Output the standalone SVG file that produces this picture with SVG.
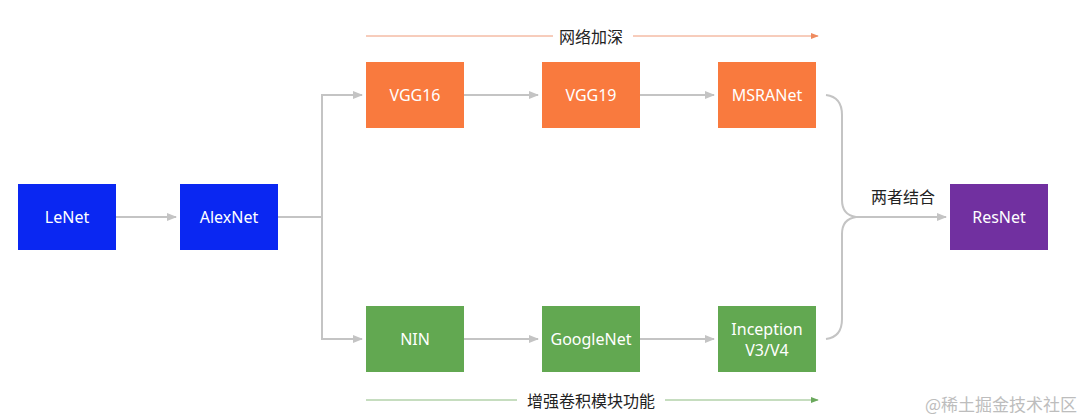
<svg xmlns="http://www.w3.org/2000/svg" width="1089" height="420" viewBox="0 0 1089 420">
<style>
.lbl{font-family:"Noto Sans","Open Sans",sans-serif;font-size:16px;fill:#ffffff;text-anchor:middle;dominant-baseline:central}
.cjk{font-family:"Noto Sans CJK SC","Noto Sans",sans-serif;font-size:16px;fill:#222222;text-anchor:middle;dominant-baseline:central}
.con{fill:none;stroke:#c4c4c4;stroke-width:2}
.blue{fill:#0a27f2}.orange{fill:#f97a3e}.green{fill:#62a851}.purple{fill:#7130a0}
</style>
<defs>
<marker id="ag" viewBox="0 0 10 10" refX="9" refY="5" markerWidth="5" markerHeight="5" orient="auto" markerUnits="strokeWidth"><path d="M0,1 L10,5 L0,9 z" fill="#c4c4c4"/></marker>
<marker id="ao" viewBox="0 0 10 10" refX="9" refY="5" markerWidth="8" markerHeight="8" orient="auto" markerUnits="strokeWidth"><path d="M0,1 L10,5 L0,9 z" fill="#ef8a5e"/></marker>
<marker id="an" viewBox="0 0 10 10" refX="9" refY="5" markerWidth="8" markerHeight="8" orient="auto" markerUnits="strokeWidth"><path d="M0,1 L10,5 L0,9 z" fill="#6aa85c"/></marker>
</defs>
<rect width="1089" height="420" fill="#ffffff"/>
<g id="connectors">
<line class="con" x1="116" y1="217" x2="176" y2="217" marker-end="url(#ag)"/>
<line class="con" x1="278" y1="217" x2="322" y2="217"/>
<line class="con" x1="322" y1="94" x2="322" y2="340"/>
<line class="con" x1="321" y1="95" x2="362" y2="95" marker-end="url(#ag)"/>
<line class="con" x1="321" y1="339" x2="362" y2="339" marker-end="url(#ag)"/>
<line class="con" x1="464" y1="95" x2="538" y2="95" marker-end="url(#ag)"/>
<line class="con" x1="640" y1="95" x2="714" y2="95" marker-end="url(#ag)"/>
<line class="con" x1="464" y1="339" x2="538" y2="339" marker-end="url(#ag)"/>
<line class="con" x1="640" y1="339" x2="714" y2="339" marker-end="url(#ag)"/>
<path class="con" d="M826,95 Q842,97 842,115 L842,200 Q842,215 856,217 M826,339 Q842,337 842,319 L842,234 Q842,219 856,217"/>
<line class="con" x1="854" y1="217" x2="946" y2="217" marker-end="url(#ag)"/>
<line x1="366" y1="36" x2="553" y2="36" stroke="#ef9a78" stroke-width="1"/>
<line x1="633" y1="36" x2="818" y2="36" stroke="#ef9a78" stroke-width="1" marker-end="url(#ao)"/>
<line x1="366" y1="400" x2="517" y2="400" stroke="#8dbb80" stroke-width="1"/>
<line x1="665" y1="400" x2="818" y2="400" stroke="#8dbb80" stroke-width="1" marker-end="url(#an)"/>
</g>
<g id="label-deepen"><text class="cjk" x="591" y="36">网络加深</text></g>
<g id="label-enhance"><text class="cjk" x="591" y="400">增强卷积模块功能</text></g>
<g id="label-combine"><text class="cjk" x="903" y="196">两者结合</text></g>
<g id="LeNet"><rect class="blue" x="18" y="184" width="98" height="66"/><text class="lbl" x="67" y="217">LeNet</text></g>
<g id="AlexNet"><rect class="blue" x="180" y="184" width="98" height="66"/><text class="lbl" x="229" y="217">AlexNet</text></g>
<g id="VGG16"><rect class="orange" x="366" y="62" width="98" height="66"/><text class="lbl" x="415" y="95">VGG16</text></g>
<g id="VGG19"><rect class="orange" x="542" y="62" width="98" height="66"/><text class="lbl" x="591" y="95">VGG19</text></g>
<g id="MSRANet"><rect class="orange" x="718" y="62" width="98" height="66"/><text class="lbl" x="767" y="95">MSRANet</text></g>
<g id="NIN"><rect class="green" x="366" y="306" width="98" height="66"/><text class="lbl" x="415" y="339">NIN</text></g>
<g id="GoogleNet"><rect class="green" x="542" y="306" width="98" height="66"/><text class="lbl" x="591" y="339">GoogleNet</text></g>
<g id="Inception"><rect class="green" x="718" y="306" width="98" height="66"/><text class="lbl" x="767" y="329">Inception</text><text class="lbl" x="767" y="350">V3/V4</text></g>
<g id="ResNet"><rect class="purple" x="950" y="184" width="98" height="66"/><text class="lbl" x="999" y="217">ResNet</text></g>
<text x="1001" y="403" font-family="Noto Sans CJK SC,sans-serif" font-size="17" fill="#bdbdbd" text-anchor="middle" dominant-baseline="central">@稀土掘金技术社区</text>
</svg>
